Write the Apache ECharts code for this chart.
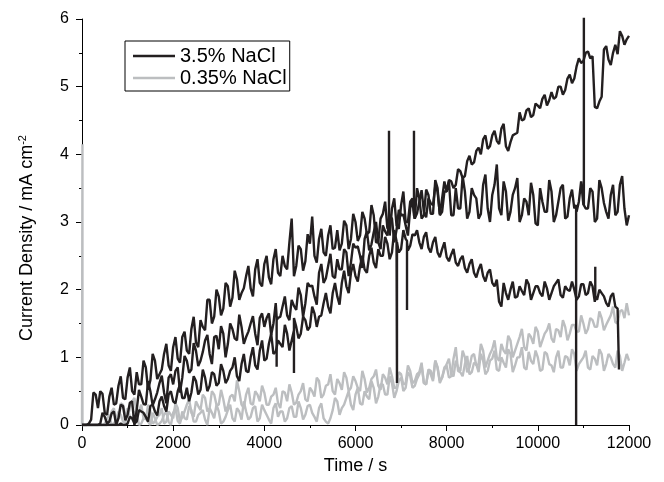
<!DOCTYPE html>
<html><head><meta charset="utf-8">
<script src="https://cdn.jsdelivr.net/npm/echarts@6/dist/echarts.min.js"></script>
<style>html,body{margin:0;padding:0;background:#fff}#c{width:664px;height:482px}</style>
</head><body><div id="c"></div>
<script>
// sampling grid: main samples every TIME_STEP s from 0 s, mid samples half a step later
const TIME_STEP = 100;
const xTickValues = [0, 2000, 4000, 6000, 8000, 10000, 12000];
const yTickValues = [0, 1, 2, 3, 4, 5, 6];
const legendNames = ['3.5% NaCl', '0.35% NaCl'];

// 3.5% NaCl, run A (ends near 5.75)
const naclHighA = [
  0,0,0,0,0.02,0.12,0.05,0.2,0.1,0.28,
  0.15,0.35,0.22,0.42,0.3,0.5,0.38,0.62,0.48,0.7,
  0.6,0.85,0.7,0.95,0.82,1.1,0.95,1.25,1.05,1.3,
  1.12,1.35,1.2,1.42,1.25,1.45,1.3,1.5,1.35,1.58,
  1.45,1.65,1.5,1.58,1.75,1.62,1.85,1.7,1.92,1.8,
  2.05,1.9,2.25,2.1,2.35,2.2,2.45,2.3,2.55,2.4,
  2.62,2.5,2.75,2.58,2.85,2.7,2.95,2.8,3.05,2.88,
  3.1,2.95,3.2,3.05,3.3,3.15,3.35,3.25,3.45,3.35,
  3.45,3.6,3.55,3.75,3.68,3.98,3.88,4.1,4.22,4.08,
  4.28,4.2,4.38,4.12,4.18,4.3,4.62,4.52,4.68,4.58,
  4.72,4.82,4.72,4.92,4.85,5.0,4.95,5.18,5.12,5.42,
  5.38,5.52,5.45,4.68,4.85,5.6,5.32,5.62,5.82,5.62,
  5.75
];
const naclHighAMid = [
  0,0,0,0,0.18,0.02,0.17,0.0,0.3,0.07,
  0.33,0.0,0.52,0.31,0.65,0.29,0.48,0.73,0.32,0.75,
  0.8,0.48,1.02,0.77,1.21,0.87,1.08,1.33,0.9,1.32,
  1.46,1.0,1.5,1.28,1.63,1.2,1.38,1.61,1.18,1.65,
  1.58,1.33,1.8,1.6,1.9,1.55,1.76,2.03,1.6,2.1,
  2.06,1.78,2.38,2.17,2.53,2.17,2.3,2.6,2.2,2.68,
  2.64,2.32,2.86,2.67,3.0,2.6,2.86,3.1,2.7,3.18,
  3.11,2.8,3.32,3.13,3.47,3.07,3.28,3.53,3.12,3.6,
  3.62,3.5,3.78,3.65,3.9,3.85,4.05,4.0,4.28,4.12,
  4.35,4.15,4.45,4.05,4.28,4.32,4.5,4.65,4.55,4.75,
  4.68,4.88,4.8,4.82,5.0,4.88,5.12,5.05,5.3,5.35,
  5.5,5.42,4.7,4.78,5.55,5.4,5.5,5.48,5.75,5.7
];
const naclHighASpikes = [[4270,1.6],[4270,0.86],[4270,1.55],[7283,3.1],[7283,4.35],[7283,3.1]];

// 3.5% NaCl, run B (levels off near 3.3)
const naclHighB = [
  0,0,0.08,0.45,0.5,0.18,0.42,0.3,0.58,0.4,
  0.7,0.5,0.78,0.6,0.85,0.66,0.95,0.75,1.05,0.88,
  1.15,0.98,1.3,1.1,1.42,1.22,1.55,1.4,1.85,1.6,
  1.9,1.72,2.05,1.88,2.15,1.95,2.2,2.02,2.3,2.1,
  2.38,2.18,2.45,2.25,2.5,2.3,3.05,2.35,2.6,2.42,
  2.68,2.5,2.75,2.55,2.8,2.6,2.88,2.68,2.95,2.75,
  3.0,2.8,3.05,2.85,3.1,2.7,3.12,2.9,3.2,2.95,
  3.25,3.0,3.3,3.05,3.35,3.1,3.4,3.12,3.5,3.15,
  3.45,3.1,3.5,3.2,3.45,3.15,3.4,3.05,3.55,3.2,
  3.4,3.85,3.1,3.45,3.15,3.5,3.0,3.35,3.1,3.4,
  2.95,3.3,3.15,3.45,3.1,3.5,3.05,3.35,3.2,3.3,
  3.25,3.2,3.45,3.05,3.5,3.15,3.4,3.1,3.55,3.2,
  3.1
];
const naclHighBMid = [
  0,0.02,0.48,0.25,0.46,0.15,0.55,0.32,0.72,0.38,
  0.85,0.45,0.6,0.95,0.52,1.05,0.68,0.82,1.2,0.8,
  1.3,0.92,1.38,1.05,1.6,1.15,1.45,1.85,1.5,2.0,
  1.62,2.1,1.75,2.28,1.85,2.02,2.35,1.9,2.45,2.05,
  2.5,2.08,2.6,2.2,2.35,2.7,2.2,2.65,2.28,2.82,
  3.08,2.4,2.9,2.5,2.95,2.62,2.58,3.02,2.6,3.12,
  2.72,3.15,2.82,3.25,2.7,3.05,3.3,2.8,3.35,2.9,
  3.45,3.0,3.35,3.5,3.05,3.48,3.12,3.62,3.1,3.45,
  3.6,3.1,3.2,3.68,3.05,3.5,3.35,3.12,3.7,3.0,
  3.55,3.2,3.6,3.02,3.4,3.65,3.1,3.3,3.58,2.98,
  3.5,3.15,3.62,3.0,3.3,3.55,3.08,3.48,3.15,3.6,
  3.2,3.5,3.0,3.62,3.28,3.05,3.55,3.15,3.68,2.95
];
const naclHighBSpikes = [[6735,3.0],[6735,4.35],[6735,3.0],[10840,3.25],[10840,0],[10840,3.25],[11010,3.3],[11010,6.6],[11010,3.25]];

// 3.5% NaCl, run C (peaks near 2.8, ends with a drop)
const naclHighC = [
  0,0,0,0,0,0,0,0,0,0,
  0.02,0.1,0.05,0.2,0.12,0.28,0.2,0.35,0.28,0.45,
  0.35,0.5,0.4,0.55,0.48,0.65,0.52,0.7,0.58,0.75,
  0.62,0.8,0.68,0.85,0.72,0.9,0.8,1.0,0.88,1.1,
  0.95,1.2,1.05,1.25,1.15,1.35,1.25,1.45,1.35,1.55,
  1.45,1.65,1.6,1.8,1.75,1.95,1.9,2.1,2.05,2.25,
  2.2,2.35,2.3,2.5,2.4,2.6,2.5,2.68,2.55,2.72,
  2.6,2.75,2.65,2.8,2.7,2.78,2.62,2.7,2.55,2.6,
  2.48,2.52,2.4,2.45,2.32,2.38,2.25,2.3,2.2,2.25,
  2.1,2.15,1.75,1.95,2.0,1.88,2.05,1.92,2.08,1.95,
  2.05,1.9,2.02,1.95,2.1,1.92,2.05,1.98,2.0,1.9,
  2.08,1.95,2.05,1.85,1.95,1.8,1.9,1.75,null,null,
  null
];
const naclHighCMid = [
  0,0,0,0,0,0,0,0,0.02,0,
  0.12,0.02,0.22,0.18,0.05,0.3,0.14,0.42,0.2,0.5,
  0.32,0.6,0.4,0.35,0.72,0.45,0.82,0.5,0.78,0.58,
  0.9,0.62,0.8,1.0,0.65,1.05,0.78,1.15,0.82,1.25,
  0.98,1.35,1.08,1.2,1.48,1.1,1.58,1.28,1.6,1.4,
  1.75,1.45,1.62,1.95,1.65,2.1,1.78,2.28,1.95,2.38,
  2.12,2.5,2.25,2.62,2.32,2.5,2.78,2.45,2.88,2.55,
  2.88,2.58,2.82,2.88,2.6,2.85,2.55,2.78,2.48,2.7,
  2.42,2.6,2.35,2.5,2.25,2.45,2.18,2.38,2.12,2.3,
  2.05,1.82,2.1,1.85,2.12,1.9,1.98,2.15,1.85,2.05,
  1.95,2.12,1.85,2.05,2.15,1.88,2.0,2.12,1.85,2.08,
  1.92,2.12,1.82,2.0,1.9,1.75,1.95,1.72,null,null
];
const naclHighCSpikes = [[4650,1.4],[4650,0.77],[4650,1.4],[6910,2.7],[6910,0.62],[6910,2.7],[7130,2.72],[7130,1.7],[7130,2.7],[11260,1.95],[11260,2.34],[11260,1.9],[11780,1.72],[11780,0.82]];

// 0.35% NaCl, run 1 (ends near 1.65)
const naclLow1 = [
  0,0,0,0,0,0.02,0.15,0.02,0.2,0.05,
  0.25,0.08,0.18,0.02,0.12,0,0.1,0.02,0.15,0.05,
  0.18,0.06,0.2,0.08,0.22,0.05,0.18,0.08,0.25,0.1,
  0.2,0.05,0.22,0.1,0.25,0.08,0.2,0.12,0.28,0.1,
  0.22,0.08,0.25,0.12,0.2,0.1,0.28,0.12,0.25,0.15,
  0.3,0.12,0.25,0.1,0.02,0.22,0.35,0.25,0.4,0.3,
  0.45,0.32,0.5,0.38,0.55,0.42,0.6,0.45,0.62,0.5,
  0.7,0.55,0.72,0.58,0.75,0.62,0.8,0.65,0.85,0.7,
  0.9,0.75,0.95,0.8,1.0,0.85,1.05,0.9,1.1,0.95,
  1.12,1.0,1.2,1.05,1.25,1.1,1.3,1.15,1.35,1.2,
  1.38,1.25,1.4,1.28,1.42,1.3,1.45,1.35,1.48,1.38,
  1.5,1.42,1.55,1.45,1.58,1.48,1.62,1.52,1.68,1.58,
  1.62
];
const naclLow1Mid = [
  0,0,0,0,0,0.1,0,0.08,0.15,0.02,
  0.12,0.2,0,0.1,0.05,0.18,0,0.06,0.2,0,
  0.25,0.02,0.1,0.28,0.05,0.15,0.22,0,0.18,0.3,
  0.02,0.12,0.3,0.05,0.2,0.35,0.08,0.25,0.05,0.3,
  0.15,0.02,0.32,0.2,0.05,0.25,0.12,0.35,0.08,0.28,
  0.18,0.05,0.32,0.05,0.1,0.4,0.15,0.3,0.5,0.22,
  0.55,0.3,0.42,0.65,0.32,0.6,0.45,0.72,0.4,0.65,
  0.5,0.78,0.55,0.68,0.88,0.6,0.75,0.95,0.62,0.82,
  0.98,0.72,0.85,1.1,0.78,1.02,0.88,1.2,0.85,1.05,
  1.25,0.95,1.1,1.32,1.0,1.2,1.42,1.1,1.3,1.45,
  1.15,1.35,1.5,1.22,1.4,1.55,1.25,1.48,1.38,1.62,
  1.35,1.58,1.45,1.68,1.4,1.55,1.75,1.5,1.7,1.8
];
const naclLow1Spikes = [];

// 0.35% NaCl, run 2 (levels off near 0.95)
const naclLow2 = [
  0,0,0,0,0,0,0.05,0.25,0.1,0.3,
  0.12,0.35,0.15,0.3,0.08,0.2,0.05,0.15,0.02,0.2,
  0.1,0.25,0.12,0.3,0.18,0.35,0.22,0.4,0.25,0.45,
  0.3,0.38,0.28,0.45,0.66,0.3,0.45,0.32,0.5,0.35,
  0.48,0.3,0.45,0.32,0.5,0.35,0.48,0.33,0.5,0.38,
  0.55,0.42,0.65,0.45,0.6,0.5,0.68,0.52,0.7,0.55,
  0.65,0.5,0.68,0.55,0.72,0.58,0.75,0.6,0.72,0.55,
  0.75,0.62,0.8,0.65,0.78,0.62,0.82,0.68,0.85,0.7,
  0.88,0.72,1.15,0.78,0.9,0.75,0.92,0.78,0.95,0.8,
  0.98,0.82,1.0,0.85,1.05,0.88,1.0,0.85,1.08,0.9,
  1.0,0.82,1.05,0.88,1.0,0.85,1.02,0.88,1.05,0.9,
  1.0,0.85,1.02,0.88,1.05,0.9,1.0,0.85,1.02,0.92,
  0.95
];
const naclLow2Mid = [
  0,0,0,0,0,0,0.2,0.05,0.32,0.15,
  0.25,0.4,0.2,0.1,0.3,0.02,0.12,0.25,0.05,0.15,
  0.32,0.05,0.2,0.38,0.12,0.28,0.45,0.2,0.5,0.3,
  0.52,0.2,0.42,0.35,0.5,0.25,0.55,0.3,0.45,0.58,
  0.3,0.42,0.55,0.25,0.48,0.6,0.3,0.45,0.62,0.35,
  0.5,0.7,0.4,0.58,0.75,0.45,0.62,0.78,0.5,0.72,
  0.55,0.8,0.48,0.68,0.82,0.52,0.7,0.85,0.55,0.78,
  0.6,0.88,0.62,0.75,0.92,0.6,0.8,0.95,0.65,0.85,
  0.7,0.98,0.8,0.72,1.02,0.78,0.9,1.05,0.75,0.95,
  1.1,0.8,0.92,1.12,0.78,1.0,1.15,0.82,0.95,1.1,
  0.8,1.08,0.9,0.78,1.1,0.85,1.0,1.12,0.8,0.95,
  1.1,0.82,0.98,1.12,0.8,1.05,0.9,1.1,0.8,1.05
];
const naclLow2Spikes = [[10,4.15],[10,0]];

function build(values, mids, extras) {
  const pts = [];
  values.forEach((v, i) => { if (v !== null) pts.push({t: i * TIME_STEP, v: v, k: 1, o: i}); });
  mids.forEach((v, i) => { if (v !== null) pts.push({t: i * TIME_STEP + TIME_STEP / 2, v: v, k: 1, o: i}); });
  extras.forEach((p, j) => pts.push({t: p[0], v: p[1], k: 0, o: j}));
  pts.sort((a, b) => (a.t - b.t) || (a.k - b.k) || (a.o - b.o));
  return pts.map(p => [p.t, p.v]);
}

const BLACK = '#231f20', GRAY = '#bcbec0';
const FONT = '"Liberation Sans", Arial, Helvetica, sans-serif';
function lineSeries(name, color, data, clip) {
  return {type: 'line', name: name, data: data, showSymbol: false, symbol: 'none', z: 3,
    lineStyle: {color: color, width: 2.4}, itemStyle: {color: color}, clip: clip, silent: true};
}

const chart = echarts.init(document.getElementById('c'), null, {renderer: 'canvas'});
chart.setOption({
  animation: false,
  backgroundColor: '#fff',
  textStyle: {fontFamily: FONT},
  grid: {left: 82, right: 35, top: 19, bottom: 57},
  legend: {
    data: legendNames, orient: 'vertical', left: 125, top: 41,
    icon: 'rect', itemWidth: 42, itemHeight: 2.5, itemGap: 2,
    padding: [5, 3, 3, 8], borderColor: '#000', borderWidth: 1,
    textStyle: {fontSize: 20, color: '#000', fontFamily: FONT}
  },
  xAxis: {
    type: 'value', min: xTickValues[0], max: xTickValues[xTickValues.length-1], interval: 2000,
    axisLine: {show: true, onZero: false, lineStyle: {color: '#000', width: 1}},
    axisTick: {show: true, inside: false, length: 6, lineStyle: {color: '#000'}},
    minorTick: {show: true, splitNumber: 2, length: 3, lineStyle: {color: '#000'}},
    splitLine: {show: false},
    axisLabel: {fontSize: 16, color: '#000', margin: 11, fontFamily: FONT, formatter: v => String(v)},
    name: 'Time / s', nameLocation: 'middle', nameGap: 31,
    nameTextStyle: {fontSize: 18, color: '#000', fontFamily: FONT}
  },
  yAxis: {
    type: 'value', min: yTickValues[0], max: yTickValues[yTickValues.length-1], interval: 1,
    axisLine: {show: true, onZero: false, lineStyle: {color: '#000', width: 1}},
    axisTick: {show: true, inside: false, length: 6, lineStyle: {color: '#000'}},
    minorTick: {show: true, splitNumber: 2, length: 3, lineStyle: {color: '#000'}},
    splitLine: {show: false},
    axisLabel: {fontSize: 16, color: '#000', margin: 13, fontFamily: FONT, formatter: v => String(v)},
    name: 'Current Density / mA cm{sup|-2}', nameLocation: 'middle', nameGap: 45,
    nameTextStyle: {fontSize: 18, color: '#000', fontFamily: FONT, padding: [0, 32, 0, 0],
      rich: {sup: {fontSize: 11, color: '#000', fontFamily: FONT, verticalAlign: 'top', padding: [0, 0, 9, 0]}}}
  },
  series: [
    lineSeries(legendNames[1], GRAY, build(naclLow1, naclLow1Mid, naclLow1Spikes), true),
    lineSeries(legendNames[1], GRAY, build(naclLow2, naclLow2Mid, naclLow2Spikes), false),
    lineSeries(legendNames[0], BLACK, build(naclHighA, naclHighAMid, naclHighASpikes), true),
    lineSeries(legendNames[0], BLACK, build(naclHighB, naclHighBMid, naclHighBSpikes), true),
    lineSeries(legendNames[0], BLACK, build(naclHighC, naclHighCMid, naclHighCSpikes), true)
  ]
});
</script></body></html>
